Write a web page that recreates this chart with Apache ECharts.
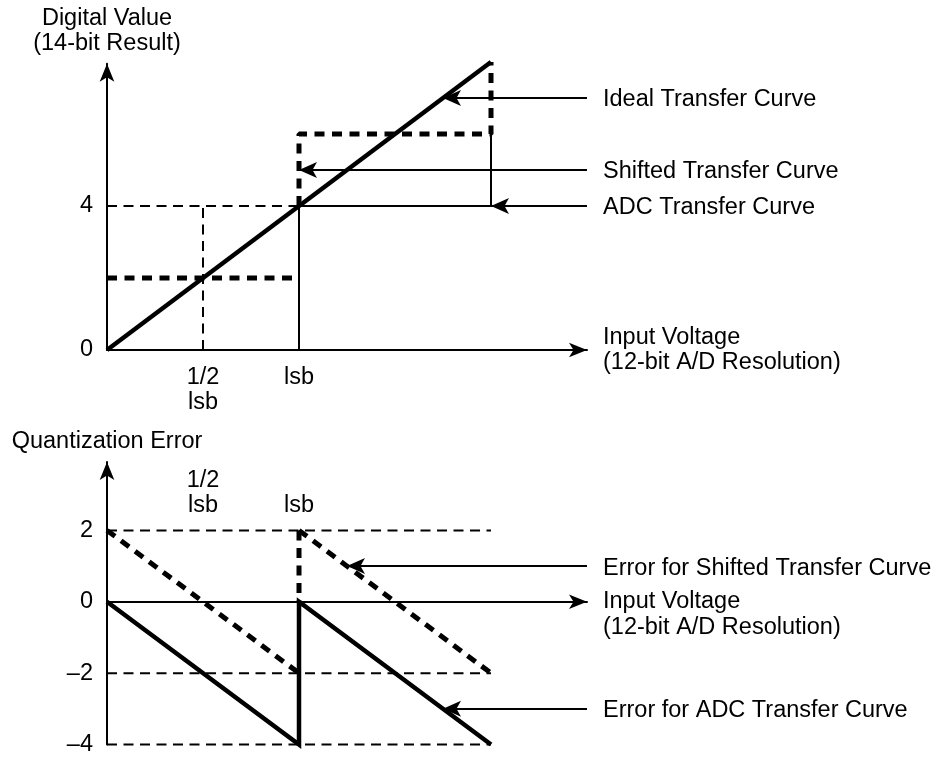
<!DOCTYPE html>
<html>
<head>
<meta charset="utf-8">
<script src="https://cdn.jsdelivr.net/npm/echarts@6/dist/echarts.min.js"></script>
<style>
  html, body { margin: 0; padding: 0; background: #fff; }
  #chart { width: 940px; height: 757px; }
</style>
</head>
<body>
<div id="chart"></div>
<script>
// ---- Upper panel: digital value (codes) against input voltage (lsb) ----
const idealCurve = [[0, 0], [2, 8]];
const adcCurve = [[1, 0], [1, 4], [2, 4], [2, 6]];
const shiftedCurveLow = [[0, 2], [1, 2]];
const shiftedCurveHigh = [[1, 4], [1, 6], [2, 6], [2, 8]];
const upperGuides = [[[0, 4], [1, 4]], [[0.5, 0], [0.5, 4]]];
const upperTickLabels = { '0': '0', '4': '4' };
// callouts: [text, value level, x where the arrow meets the curve]
const upperCallouts = [
  ['Ideal Transfer Curve', 7, 1.75],
  ['Shifted Transfer Curve', 5, 1],
  ['ADC Transfer Curve', 4, 2]
];

// ---- Lower panel: quantization error ----
const adcError = [[0, 0], [1, -4], [1, 0], [2, -4]];
const shiftedErrorA = [[0, 2], [1, -2]];
const shiftedErrorStep = [[1, 2], [1, 0]];
const shiftedErrorB = [[1, 2], [2, -2]];
const lowerGuides = [[[0, 2], [2, 2]], [[0, -2], [2, -2]], [[0, -4], [2, -4]]];
const lowerTickLabels = { '2': '2', '0': '0', '-2': '\u20132', '-4': '\u20134' };
const lowerCallouts = [
  ['Error for Shifted Transfer Curve', 1, 1.25],
  ['Error for ADC Transfer Curve', -3, 1.75]
];

// shared x tick labels (in lsb)
const xTickLabels = { '0.5': '1/2\nlsb', '1': 'lsb' };
const calloutStartX = 2.5;

// ---- layout ----
const PX_PER_LSB = 192, PX_PER_CODE = 36;
const X_MAX = 2.5, UPPER_Y_MAX = 7.95, LOWER_Y_MIN = -4, LOWER_Y_MAX = 3.92;
const ORIGIN_X = 107, UPPER_ZERO_Y = 350, LOWER_ZERO_Y = 603;
const FONT = 'Liberation Sans, Arial, Helvetica, sans-serif';
const FS = 23.5;
const ARROW_LEN = 18;

const txt = { color: '#000', fontFamily: FONT, fontSize: FS, lineHeight: 25 };
const axisLine = {
  show: true,
  onZero: true,
  symbol: ['none', 'arrow'],
  symbolSize: [11, ARROW_LEN],
  lineStyle: { color: '#000', width: 2 }
};

const thick = { color: '#000', width: 4.5, cap: 'butt', join: 'miter' };
const thickDash = { color: '#000', width: 5, type: [10, 7.5], cap: 'butt' };
const thin = { color: '#000', width: 2 };
const thinDash = { color: '#000', width: 2, type: [10, 6.5] };

function poly(data, style, gi, z) {
  return {
    type: 'line', xAxisIndex: gi === 0 ? 0 : 1, yAxisIndex: gi,
    data: data, symbol: 'none', showSymbol: false, clip: false,
    lineStyle: style, z: z || 2, silent: true, animation: false
  };
}

// leader arrows from the caption column to each curve
function calloutArrows(list, gi) {
  return {
    type: 'lines', coordinateSystem: 'cartesian2d',
    xAxisIndex: gi === 0 ? 0 : 1, yAxisIndex: gi, clip: false,
    symbol: ['none', 'arrow'], symbolSize: [0, [12, ARROW_LEN]],
    lineStyle: { color: '#000', width: 2, opacity: 1, curveness: 0 },
    silent: true, animation: false, z: 3,
    data: list.map(c => ({ name: c[0], coords: [[calloutStartX, c[1]], [c[2], c[1]]] }))
  };
}
// captions next to the arrow tails
function calloutTexts(list, gi) {
  return {
    type: 'scatter', xAxisIndex: gi === 0 ? 0 : 1, yAxisIndex: gi,
    symbolSize: 0, clip: false, silent: true, animation: false, z: 4,
    itemStyle: { color: '#000', opacity: 1 },
    label: {
      show: true, position: 'right', distance: 16, offset: [0, 2],
      formatter: p => p.name, ...txt, color: '#000', opacity: 1
    },
    emphasis: { disabled: true },
    data: list.map(c => ({ name: c[0], value: [calloutStartX, c[1]] }))
  };
}

const series = [];
upperGuides.forEach(g => series.push(poly(g, thinDash, 0, 1)));
series.push(poly(adcCurve, thin, 0, 2));
series.push(poly(shiftedCurveLow, thickDash, 0, 2));
series.push(poly(shiftedCurveHigh, thickDash, 0, 2));
series.push(poly(idealCurve, thick, 0, 3));
series.push(calloutArrows(upperCallouts, 0));
series.push(calloutTexts(upperCallouts, 0));

lowerGuides.forEach(g => series.push(poly(g, thinDash, 1, 1)));
series.push(poly(shiftedErrorA, thickDash, 1, 2));
series.push(poly(shiftedErrorStep, thickDash, 1, 2));
series.push(poly(shiftedErrorB, thickDash, 1, 2));
series.push(poly(adcError, thick, 1, 3));
series.push(calloutArrows(lowerCallouts, 1));
series.push(calloutTexts(lowerCallouts, 1));

const xLabelFmt = v => xTickLabels[String(v)] || '';

const option = {
  backgroundColor: '#fff',
  animation: false,
  grid: [
    {
      left: ORIGIN_X, width: X_MAX * PX_PER_LSB,
      top: UPPER_ZERO_Y - UPPER_Y_MAX * PX_PER_CODE, height: UPPER_Y_MAX * PX_PER_CODE
    },
    {
      left: ORIGIN_X, width: X_MAX * PX_PER_LSB,
      top: LOWER_ZERO_Y - LOWER_Y_MAX * PX_PER_CODE,
      height: (LOWER_Y_MAX - LOWER_Y_MIN) * PX_PER_CODE
    }
  ],
  xAxis: [
    {
      gridIndex: 0, type: 'value', min: 0, max: X_MAX, interval: 0.5,
      axisLine: axisLine, axisTick: { show: false }, splitLine: { show: false },
      axisLabel: { formatter: xLabelFmt, margin: 15, ...txt },
      name: 'Input Voltage\n(12-bit A/D Resolution)', nameLocation: 'end', nameGap: 16,
      nameTextStyle: { ...txt, align: 'left', verticalAlign: 'middle' }
    },
    {
      gridIndex: 1, type: 'value', min: 0, max: X_MAX, interval: 0.5,
      axisLine: axisLine, axisTick: { show: false }, splitLine: { show: false },
      axisLabel: { show: false },
      name: '\nInput Voltage\n(12-bit A/D Resolution)', nameLocation: 'end', nameGap: 16,
      nameTextStyle: { ...txt, lineHeight: 26, align: 'left', verticalAlign: 'middle' }
    },
    {
      gridIndex: 1, type: 'value', min: 0, max: X_MAX, interval: 0.5,
      position: 'top', offset: -64,
      axisLine: { show: false, onZero: false }, axisTick: { show: false }, splitLine: { show: false },
      axisLabel: { formatter: xLabelFmt, margin: 8, ...txt }
    }
  ],
  yAxis: [
    {
      gridIndex: 0, type: 'value', min: 0, max: UPPER_Y_MAX, interval: 4,
      axisLine: axisLine, axisTick: { show: false }, splitLine: { show: false },
      axisLabel: { formatter: v => upperTickLabels[String(v)] || '', margin: 14, ...txt },
      name: 'Digital Value\n(14-bit Result)', nameLocation: 'end', nameGap: 8,
      nameTextStyle: { ...txt, align: 'center', verticalAlign: 'bottom' }
    },
    {
      gridIndex: 1, type: 'value', min: LOWER_Y_MIN, max: LOWER_Y_MAX, interval: 2,
      axisLine: axisLine, axisTick: { show: false }, splitLine: { show: false },
      axisLabel: { formatter: v => lowerTickLabels[String(v)] || '', margin: 14, ...txt },
      name: 'Quantization Error', nameLocation: 'end', nameGap: 8,
      nameTextStyle: { ...txt, align: 'center', verticalAlign: 'bottom' }
    }
  ],
  series: series
};

const chart = echarts.init(document.getElementById('chart'), null, { renderer: 'canvas' });
chart.setOption(option);
</script>
</body>
</html>
